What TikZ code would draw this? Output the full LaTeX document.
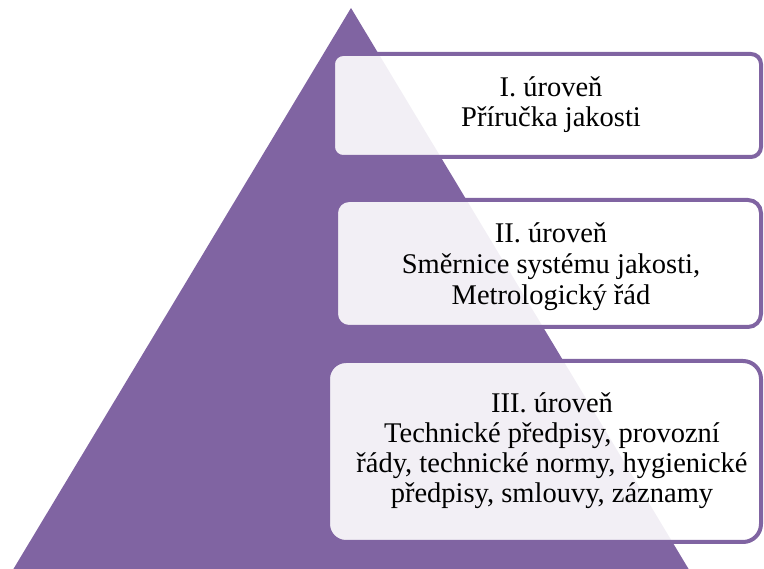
\documentclass[tikz,border=0pt]{standalone}
\usepackage{fontspec}
\setmainfont{LiberationSerif}[Extension=.ttf, UprightFont=*-Regular, BoldFont=*-Bold]
\definecolor{pyr}{HTML}{8064A2}
\begin{document}
\begin{tikzpicture}[x=1pt,y=-1pt,
  level/.style={draw=pyr, line width=4pt, fill=white, fill opacity=0.9},
  lbl/.style={anchor=base, inner sep=0pt, text=black,
    font=\rmfamily\fontsize{28.5}{30}\selectfont}]
\useasboundingbox (0,0) rectangle (764,569);
% pyramid
\fill[pyr] (351,8) -- (688.6,569) -- (13.4,569) -- cycle;
% level panels
\draw[level, rounded corners=10pt] (333,54) rectangle (761,157);
\draw[level, rounded corners=13pt] (336,200) rectangle (761,327);
\draw[level, rounded corners=18pt] (328,361) rectangle (761,542);
% level texts
\node[lbl] (t1) at (551,97) {\begin{tabular}[t]{@{}c@{}}I. úroveň\\Příručka jakosti\end{tabular}};
\node[lbl] (t2) at (551,243) {\begin{tabular}[t]{@{}c@{}}II. úroveň\\[1pt]Směrnice systému jakosti,\\[1pt]Metrologický řád\end{tabular}};
\node[lbl] (t3) at (552,413) {\begin{tabular}[t]{@{}c@{}}III. úroveň\\Technické předpisy, provozní\\řády, technické normy, hygienické\\předpisy, smlouvy, záznamy\end{tabular}};
\end{tikzpicture}
\end{document}
